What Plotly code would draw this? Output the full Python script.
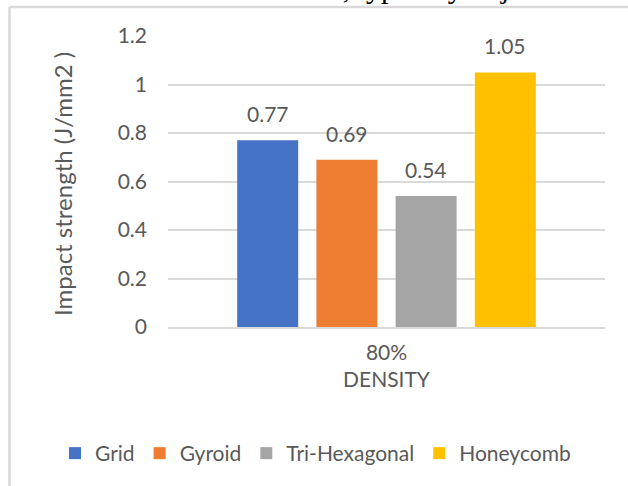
import plotly.graph_objects as go

categories = ["80%"]
series_names = ["Grid", "Gyroid", "Tri-Hexagonal", "Honeycomb"]
series_values = [[0.77], [0.69], [0.54], [1.05]]
colors = ["#4472C4", "#ED7D31", "#A5A5A5", "#FFC000"]
y_ticks = [0, 0.2, 0.4, 0.6, 0.8, 1, 1.2]
y_tick_labels = ["0", "0.2", "0.4", "0.6", "0.8", "1", "1.2"]
y_title = "Impact strength (J/mm2 )"
x_title = "DENSITY"
top_fragment = "is measured and recorded, typically in joules."

FONT = "Lato"
GRAY = "#595959"
BARGAP = 0.275
BARGROUPGAP = 0.23

W, H = 628, 486
L, R, T, B = 168, 23, 36, 159
PW, PH = W - L - R, H - T - B


def px_to_paper_x(px):
    return (px - L) / PW


def px_to_paper_y(py):
    return (H - B - py) / PH


fig = go.Figure()
for name, vals, col in zip(series_names, series_values, colors):
    fig.add_trace(go.Bar(
        x=categories, y=vals, name=name,
        marker=dict(color=col, line=dict(width=0)),
    ))

# value labels above bars (positions derived from the group layout)
n = len(series_names)
group_w = 1 - BARGAP
slot = group_w / n
annotations = []
for i, vals in enumerate(series_values):
    for ci, v in enumerate(vals):
        annotations.append(dict(
            x=ci - group_w / 2 + (i + 0.5) * slot, y=v, xref="x", yref="y",
            text=f"{v:g}", showarrow=False, yanchor="bottom", yshift=12,
            font=dict(size=21, color=GRAY, family=FONT),
        ))

annotations.append(dict(
    x=px_to_paper_x(62), y=px_to_paper_y(184), xref="paper", yref="paper",
    text=y_title, textangle=-90, showarrow=False, xanchor="center", yanchor="middle",
    font=dict(size=24, color=GRAY, family=FONT),
))
# partly visible line of surrounding text, cut by the top edge as in the source
annotations.append(dict(
    x=px_to_paper_x(582), y=px_to_paper_y(6), xref="paper", yref="paper",
    text=top_fragment, showarrow=False, xanchor="right", yanchor="bottom",
    font=dict(size=30, color="#000000", family="Liberation Serif"),
))

fig.update_layout(
    width=W, height=H,
    margin=dict(l=L, r=R, t=T, b=B),
    paper_bgcolor="white", plot_bgcolor="white",
    barmode="group", bargap=BARGAP, bargroupgap=BARGROUPGAP,
    font=dict(family=FONT, color=GRAY, size=21),
    showlegend=True,
    legend=dict(orientation="h", xref="paper", yref="paper",
                x=px_to_paper_x(55), xanchor="left",
                y=px_to_paper_y(453.5), yanchor="middle",
                font=dict(size=21, color=GRAY, family=FONT),
                traceorder="normal"),
    yaxis=dict(range=[0, 1.2], tickvals=y_ticks, ticktext=y_tick_labels,
               showgrid=True, gridcolor="#D9D9D9", gridwidth=1.5, zeroline=False,
               showline=False, ticks="", ticklabelstandoff=20,
               tickfont=dict(size=21, color=GRAY, family=FONT)),
    xaxis=dict(showline=True, linecolor="#D9D9D9", linewidth=1.5, ticks="",
               ticklabelstandoff=6,
               tickfont=dict(size=21, color=GRAY, family=FONT),
               title=dict(text=x_title, font=dict(size=21, color=GRAY, family=FONT), standoff=9)),
    annotations=annotations,
)

# chart-area frame (left and top edges visible)
fx = px_to_paper_x(9.5)
fy = px_to_paper_y(7)
fig.add_shape(type="line", xref="paper", yref="paper",
              x0=fx, x1=fx, y0=fy, y1=px_to_paper_y(H + 20),
              line=dict(color="#D9D9D9", width=2.5))
fig.add_shape(type="line", xref="paper", yref="paper",
              x0=fx, x1=px_to_paper_x(W + 20), y0=fy, y1=fy,
              line=dict(color="#D9D9D9", width=2.5))

fig.write_html("out.html", config={"displayModeBar": False},
               post_script="document.body.style.margin='0px';")
